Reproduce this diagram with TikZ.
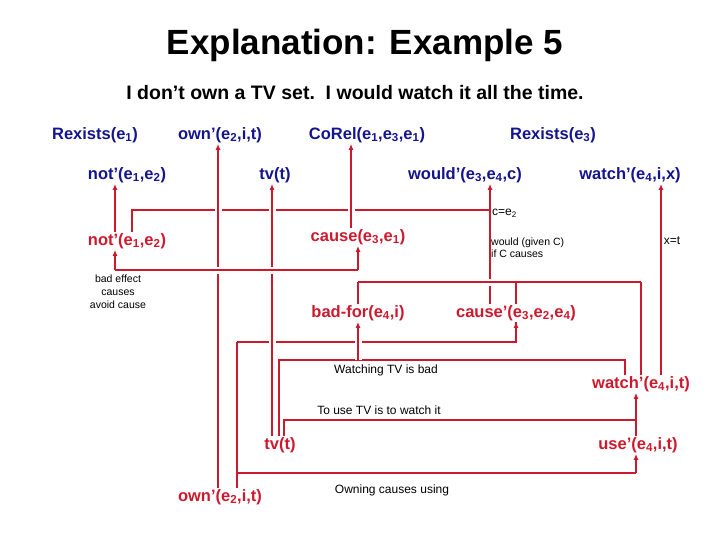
\documentclass[tikz,border=0pt]{standalone}
\usepackage{fontspec}
\setmainfont{Liberation Sans}
\usetikzlibrary{arrows.meta}
\definecolor{navy}{RGB}{20,20,140}
\definecolor{dred}{RGB}{205,25,45}
\newcommand{\sbs}[1]{\textsubscript{#1}}
\tikzset{
  top/.style={font=\fontsize{16.5}{19}\selectfont\bfseries, text=navy, inner sep=1pt},
  low/.style={font=\fontsize{16.5}{19}\selectfont\bfseries, text=dred, inner sep=1pt},
  note/.style={font=\fontsize{12}{13.5}\selectfont, inner sep=0pt, align=left},
  wire/.style={dred, line width=1.6pt},
  arr/.style={wire, -{Latex[length=6pt,width=5pt]}},
  over/.style={preaction={draw, white, line width=7pt, -}}
}
\begin{document}
\begin{tikzpicture}[x=1pt,y=-1pt]
\useasboundingbox (0,0) rectangle (720,540);

% Title
\node[font=\fontsize{35}{40}\selectfont\bfseries] at (365,45) {Explanation: Example 5};
\node[font=\fontsize{19.5}{22}\selectfont\bfseries] at (355,93) {I don’t own a TV set.\ \ I would watch it all the time.};

% Logical form
\node[top] (rex1) at (95,135) {Rexists(e\sbs{1})};
\node[top] (own1) at (220,135) {own’(e\sbs{2},i,t)};
\node[top] (corel) at (367,135) {CoRel(e\sbs{1},e\sbs{3},e\sbs{1})};
\node[top] (rex3) at (553,135) {Rexists(e\sbs{3})};
\node[top] (not1) at (127,175) {not’(e\sbs{1},e\sbs{2})};
\node[top] (tv1) at (275,175) {tv(t)};
\node[top] (would) at (465,175) {would’(e\sbs{3},e\sbs{4},c)};
\node[top] (watch1) at (630,175) {watch’(e\sbs{4},i,x)};

% Explanation
\node[low] (not2) at (127,241) {not’(e\sbs{1},e\sbs{2})};
\node[low] (cause) at (358,237) {cause(e\sbs{3},e\sbs{1})};
\node[low] (badfor) at (358,313) {bad-for(e\sbs{4},i)};
\node[low] (causep) at (516,313) {cause’(e\sbs{3},e\sbs{2},e\sbs{4})};
\node[low] (watch2) at (641,384) {watch’(e\sbs{4},i,t)};
\node[low] (tv2) at (280,445) {tv(t)};
\node[low] (use) at (638,445) {use’(e\sbs{4},i,t)};
\node[low] (own2) at (220,497) {own’(e\sbs{2},i,t)};

% Notes
\node[note, anchor=west] (ceq) at (492,213) {c=e\sbs{2}};
\node[note, anchor=west, font=\fontsize{10.5}{12}\selectfont] (given) at (491,248) {would (given C)\\if C causes};
\node[note] (xt) at (672,241) {x=t};
\node[note, align=center, font=\fontsize{10.5}{13}\selectfont] (bad) at (118,292) {bad effect\\causes\\avoid cause};
\node[note] (wbad) at (386,370) {Watching TV is bad};
\node[note] (touse) at (379,410) {To use TV is to watch it};
\node[note] (owning) at (392,490) {Owning causes using};

% Line positions
\coordinate (xa) at (115,0);
\coordinate (xb) at (132,0);
\coordinate (xc) at (218,0);
\coordinate (xd) at (237,0);
\coordinate (xe) at (272,0);
\coordinate (xf) at (279,0);
\coordinate (xg) at (284,0);
\coordinate (xh) at (351,0);
\coordinate (xi) at (358,0);
\coordinate (xj) at (490,0);
\coordinate (xk) at (516,0);
\coordinate (xl) at (625,0);
\coordinate (xm) at (636,0);
\coordinate (xn) at (641,0);
\coordinate (xo) at (661,0);
\coordinate (ya) at (0,210);
\coordinate (yb) at (0,270);
\coordinate (yc) at (0,282);
\coordinate (yd) at (0,342);
\coordinate (ye) at (0,360);
\coordinate (yf) at (0,420);
\coordinate (yg) at (0,473);

% c=e2
\draw[wire] (not2.north -| xb) |- (ya -| xj);
\draw[arr] (causep.north -| xj) -- (would.south -| xj);
\draw[wire] (yd -| xd) -| (causep.south -| xk);
\draw[arr] (yd -| xk) -- (causep.south -| xk);

% Verticals to the top row
\draw[arr, over] (own2.north -| xc) -- (own1.south -| xc);
\draw[arr, over] (tv2.north -| xe) -- (tv1.south -| xe);
\draw[arr, over] (cause.north -| xh) -- (corel.south -| xh);
\draw[arr] (not2.north -| xa) -- (not1.south -| xa);

% bad effect causes avoid cause
\draw[wire, over] (yb -| xa) -- (yb -| xi);
\draw[arr] (yb -| xa) -- (not2.south -| xa);
\draw[wire, over] (yc -| xi) -- (yc -| xn);
\draw[wire] (yc -| xk) -- (causep.north -| xk);
\draw[wire] (badfor.north -| xi) -- (yc -| xi);
\draw[arr] (yb -| xi) -- (cause.south -| xi);
\draw[wire] (yc -| xn) -- (watch2.north -| xn);
\draw[arr] (watch2.north -| xo) -- (watch1.south -| xo);

% Watching TV is bad
\draw[wire] (tv2.north -| xf) |- (ye -| xl) -- (watch2.north -| xl);
\draw[arr, over] (ye -| xi) -- (badfor.south -| xi);

% To use TV is to watch it
\draw[wire] (tv2.north -| xg) |- (yf -| xm);
\draw[arr] (use.north -| xm) -- (watch2.south -| xm);

% Owning causes using
\draw[wire] (own2.north -| xd) -- (yd -| xd);
\draw[wire] (own2.north -| xd) |- (yg -| xm);
\draw[arr] (yg -| xm) -- (use.south -| xm);
\end{tikzpicture}
\end{document}
